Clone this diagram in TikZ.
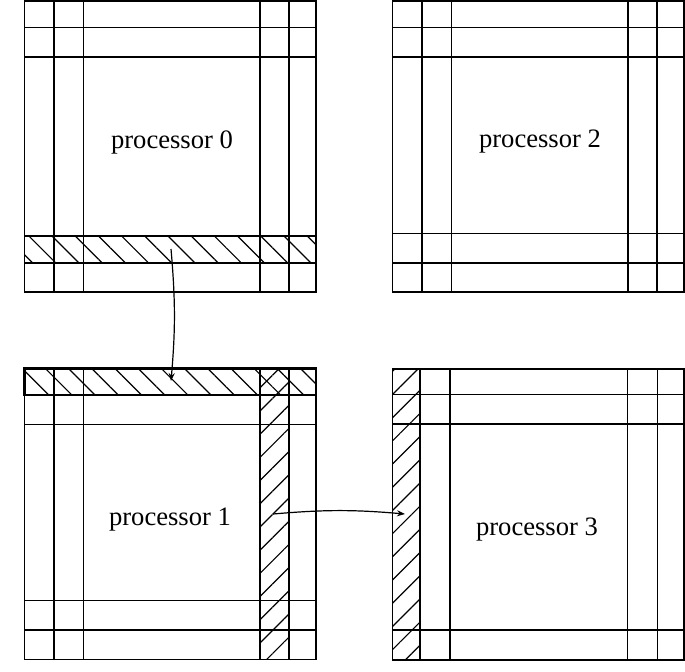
\documentclass[tikz,border=0pt]{standalone}
\usepackage{fontspec}
\setmainfont{Liberation Serif}
\usetikzlibrary{arrows.meta, patterns.meta}

% one processor block: #1,#2 = top left corner, #3 = vertical cuts, #4 = horizontal cuts
\newcommand{\procgrid}[4]{%
  \begin{scope}[shift={(#1,#2)}]
    \draw[cell] (0,0) rectangle (291.5,291);
    \foreach \gx in {#3} \draw[cell] (\gx,0) -- (\gx,291);
    \foreach \gy in {#4} \draw[cell] (0,\gy) -- (291.5,\gy);
  \end{scope}}

\begin{document}
\begin{tikzpicture}[
  x=0.5pt, y=-0.5pt,
  >={Stealth[length=4pt, width=3pt]},
  cell/.style={line width=0.65pt},
  wall/.style={line width=1.4pt},
  hatchdown/.style={pattern={Lines[angle=-45, distance=8.2pt, line width=0.6pt]}},
  hatchup/.style={pattern={Lines[angle=45, distance=8.2pt, line width=0.6pt]}},
  proc/.style={font=\fontsize{13.3}{16}\selectfont},
  conn/.style={->, line width=0.6pt},
]
\useasboundingbox (0,0) rectangle (685,671);

% hatched ghost strips
\fill[hatchdown] (24.5,236) rectangle (316,263);
\fill[hatchdown] (24.5,368.5) rectangle (316,395);
\fill[hatchup] (260,368.5) rectangle (289,659.5);
\fill[hatchup] (392.5,369) rectangle (420,660);

% processor blocks
\procgrid{24.5}{1}{29.5,59,235.5,264.5}{26.5,56,235,262}
\procgrid{392.5}{1}{29.5,59,235.5,264.5}{26.5,56,232.5,262}
\procgrid{24.5}{368.5}{29.5,59,235.5,264.5}{26.5,56,232,261.5}
\procgrid{392.5}{369}{27.5,57.5,235,265}{25.5,55,261}

% received ghost layers
\draw[wall] (24.5,368.5) rectangle (316,395);
\draw[wall] (289,368.5) -- (289,659.5);
\draw[wall] (420,369) -- (420,660);
\draw[wall] (450,369) -- (450,660);

% labels
\node[proc] (p0) at (172,142) {processor 0};
\node[proc] (p2) at (540,142) {processor 2};
\node[proc] (p1) at (170,520) {processor 1};
\node[proc] (p3) at (537,530) {processor 3};

% messages
\coordinate (send0) at (171,249);
\coordinate (recv1) at (171,381);
\coordinate (send1) at (273,514);
\coordinate (recv3) at (405,514);
\draw[conn] (send0) to[bend left=5] (recv1);
\draw[conn] (send1) to[bend left=5] (recv3);

\end{tikzpicture}
\end{document}
